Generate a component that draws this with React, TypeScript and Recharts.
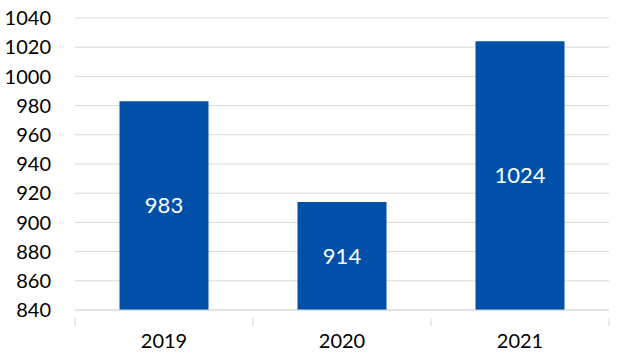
import { Bar, BarChart, CartesianGrid, LabelList, XAxis, YAxis } from 'recharts';

const years = ['2019', '2020', '2021'];
const values = [983, 914, 1024];
const yTicks = [840, 860, 880, 900, 920, 940, 960, 980, 1000, 1020, 1040];

const data = years.map((year, i) => ({ year, value: values[i] }));

const W = 618;
const H = 362;
const LEFT = 75;
const RIGHT = 9;
const BAND = (W - LEFT - RIGHT) / years.length;
const FONT = 'Lato, "Open Sans", sans-serif';

function YearTick(props: any) {
  const { x, y, payload, index } = props;
  return (
    <g>
      <line x1={x - BAND / 2} y1={y} x2={x - BAND / 2} y2={y + 8} stroke="#d9d9d9" />
      {index === years.length - 1 && (
        <line x1={x + BAND / 2} y1={y} x2={x + BAND / 2} y2={y + 8} stroke="#d9d9d9" />
      )}
      <text x={x} y={y + 30} textAnchor="middle" fill="#000" fontSize={20} fontFamily={FONT}>
        {payload.value}
      </text>
    </g>
  );
}

export default function App() {
  return (
    <div style={{ position: 'absolute', left: 0, top: 0, background: '#fff' }}>
      <BarChart
        width={W}
        height={H}
        data={data}
        margin={{ top: 18, right: RIGHT, bottom: 0, left: 0 }}
        barCategoryGap="25%"
      >
        <CartesianGrid vertical={false} stroke="#d9d9d9" />
        <XAxis
          dataKey="year"
          axisLine={{ stroke: '#d9d9d9' }}
          tickLine={false}
          height={52}
          tick={<YearTick />}
          interval={0}
        />
        <YAxis
          width={LEFT}
          domain={[840, 1040]}
          ticks={yTicks}
          interval={0}
          axisLine={false}
          tickLine={false}
          tickMargin={18}
          tick={{ fill: '#000', fontSize: 20, fontFamily: FONT }}
        />
        <Bar dataKey="value" fill="#0050a8" isAnimationActive={false}>
          <LabelList
            dataKey="value"
            position="center"
            fill="#fff"
            fontSize={22}
            fontFamily={FONT}
          />
        </Bar>
      </BarChart>
    </div>
  );
}
